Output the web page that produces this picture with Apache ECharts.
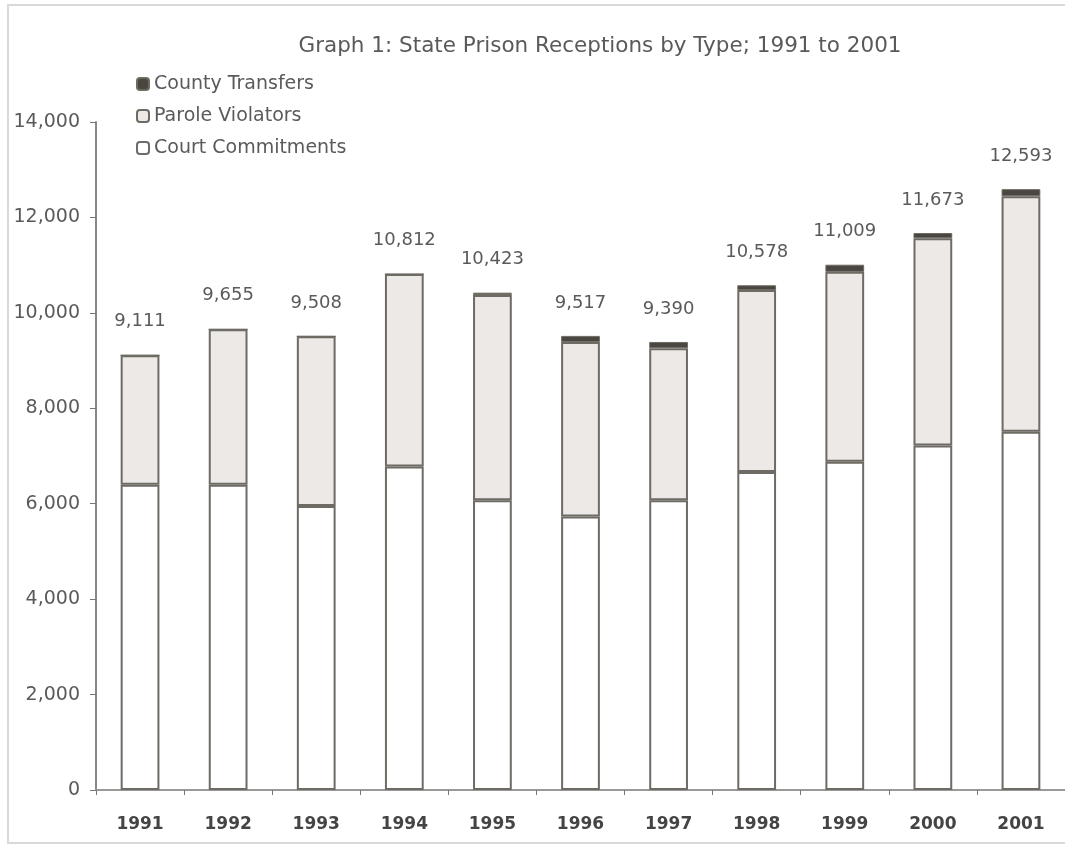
<!DOCTYPE html>
<html>
<head>
<meta charset="utf-8">
<script src="https://cdn.jsdelivr.net/npm/echarts@6/dist/echarts.min.js"></script>
<style>
  html, body { margin: 0; padding: 0; background: #fff; }
  #chart { width: 1065px; height: 845px; }
</style>
</head>
<body>
<div id="chart"></div>
<script>
const years = ['1991', '1992', '1993', '1994', '1995', '1996', '1997', '1998', '1999', '2000', '2001']
const courtCommitments = [6400, 6400, 5950, 6780, 6070, 5730, 6070, 6665, 6880, 7220, 7510]
const paroleViolators = [2711, 3255, 3558, 4032, 4303, 3657, 3190, 3813, 3979, 4343, 4933]
const countyTransfers = [0, 0, 0, 0, 50, 130, 130, 100, 150, 110, 150]
const totals = [9111, 9655, 9508, 10812, 10423, 9517, 9390, 10578, 11009, 11673, 12593]
const yTicks = [0, 2000, 4000, 6000, 8000, 10000, 12000, 14000]

// the source picture is stretched sideways, so a wide face gets closest
const font = 'DejaVu Sans, Verdana, sans-serif'
const edge = '#6e6b64'

const chart = echarts.init(document.getElementById('chart'))

chart.setOption({
  animation: false,
  textStyle: { fontFamily: font },
  graphic: [{
    type: 'rect',
    shape: { x: 8, y: 5, width: 1080, height: 838 },
    style: { fill: 'none', stroke: '#d9d9d9', lineWidth: 2 },
    z: -1
  }],
  title: {
    text: 'Graph 1: State Prison Receptions by Type; 1991 to 2001',
    left: 595,
    top: 30,
    textAlign: 'center',
    textStyle: { color: '#5a5a5a', fontSize: 21.5, fontWeight: 'normal', fontFamily: font }
  },
  legend: {
    orient: 'vertical',
    left: 131,
    top: 69,
    itemWidth: 12,
    itemHeight: 12,
    itemGap: 12,
    data: ['County Transfers', 'Parole Violators', 'Court Commitments'],
    textStyle: { color: '#5a5a5a', fontSize: 19, lineHeight: 20 }
  },
  grid: {
    left: 96,
    right: -9,
    top: 122,
    bottom: 55
  },
  xAxis: {
    type: 'category',
    data: years,
    axisLine: { lineStyle: { color: '#999', width: 2 } },
    axisTick: { show: true, length: 5, lineStyle: { color: '#777' } },
    axisLabel: { color: '#444', fontSize: 17, fontWeight: 'bold', margin: 26 }
  },
  yAxis: {
    type: 'value',
    min: 0,
    max: yTicks[yTicks.length - 1],
    interval: 2000,
    splitLine: { show: false },
    axisLine: { show: true, lineStyle: { color: '#888', width: 2 } },
    axisTick: { show: true, length: 6, lineStyle: { color: '#777' } },
    axisLabel: {
      color: '#5a5a5a',
      fontSize: 19,
      margin: 16,
      formatter: v => v.toLocaleString('en-US')
    }
  },
  series: [
    {
      name: 'Court Commitments',
      type: 'bar',
      stack: 'total',
      barWidth: '44%',
      data: courtCommitments,
      itemStyle: { color: '#ffffff', borderColor: edge, borderWidth: 2 }
    },
    {
      name: 'Parole Violators',
      type: 'bar',
      stack: 'total',
      data: paroleViolators,
      itemStyle: { color: '#ece9e6', borderColor: edge, borderWidth: 2 }
    },
    {
      name: 'County Transfers',
      type: 'bar',
      stack: 'total',
      data: countyTransfers,
      itemStyle: { color: '#4a4740', borderColor: edge, borderWidth: 1 },
      label: {
        show: true,
        position: 'top',
        distance: 24,
        color: '#5a5a5a',
        fontSize: 18,
        formatter: p => totals[p.dataIndex].toLocaleString('en-US')
      }
    }
  ]
})
</script>
</body>
</html>
